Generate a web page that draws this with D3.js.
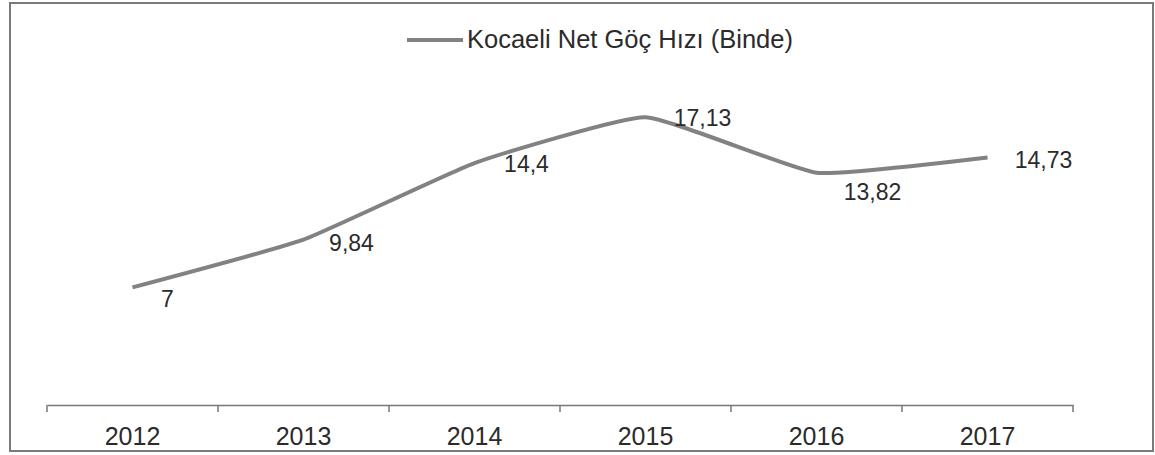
<!DOCTYPE html>
<html>
<head>
<meta charset="utf-8">
<script src="https://cdn.jsdelivr.net/npm/d3@7"></script>
<style>
  html, body { margin: 0; padding: 0; background: #ffffff; }
  svg { display: block; }
  text { font-family: "Liberation Sans", Arial, sans-serif; fill: #2b2b2b; }
</style>
</head>
<body>
<script>
// Kocaeli net migration rate (per thousand), 2012–2017
const years = ["2012", "2013", "2014", "2015", "2016", "2017"];
const netRate = [7, 9.84, 14.4, 17.13, 13.82, 14.73];
const seriesName = "Kocaeli Net Göç Hızı (Binde)";

// data label placement relative to each point [dx, dy]
const labelOffsets = [[35, 20], [48, 11], [52, 9], [57, 9], [56, 27], [56, 10]];

const W = 1155, H = 455;
const svg = d3.select("body").append("svg").attr("width", W).attr("height", H);

const locale = d3.formatLocale({ decimal: ",", thousands: ".", grouping: [3], currency: ["", ""] });
const fmt = v => locale.format("~g")(v);

const x = d3.scaleBand().domain(years).range([47, 1073]).padding(0);
const y = d3.scaleLinear().domain([0, 20]).range([405, 69]);
const cx = d => x(d) + x.bandwidth() / 2;

// outer frame
svg.append("rect")
  .attr("x", 10).attr("y", 3).attr("width", 1143).attr("height", 448)
  .attr("fill", "none").attr("stroke", "#7a7a7a").attr("stroke-width", 2);

// category axis
const axisG = svg.append("g").attr("transform", "translate(0,405)");
axisG.call(d3.axisBottom(x).tickSize(0).tickPadding(22))
  .call(g => g.select(".domain").attr("stroke", "#777").attr("stroke-width", 1.5))
  .call(g => g.selectAll(".tick text")
    .attr("font-size", 25).attr("fill", "#2b2b2b")
    .attr("font-family", "'Liberation Sans', Arial, sans-serif"));
const bounds = years.map(d => x(d)).concat([x.range()[1]]);
axisG.selectAll("line.sep").data(bounds).join("line")
  .attr("class", "sep")
  .attr("x1", d => d).attr("x2", d => d)
  .attr("y1", 0).attr("y2", 7)
  .attr("stroke", "#777").attr("stroke-width", 1.5);

// series line (lightly smoothed)
const pts = years.map((d, i) => [cx(d), y(netRate[i])]);
svg.append("path")
  .attr("d", d3.line().curve(d3.curveCardinal.tension(0.6))(pts))
  .attr("fill", "none").attr("stroke", "#828282").attr("stroke-width", 4)
  .attr("stroke-linejoin", "round");

// data labels
svg.selectAll("text.val").data(netRate).join("text")
  .attr("class", "val")
  .attr("x", (v, i) => cx(years[i]) + labelOffsets[i][0])
  .attr("y", (v, i) => y(v) + labelOffsets[i][1])
  .attr("text-anchor", "middle")
  .attr("font-size", 23)
  .text(v => fmt(v));

// legend
const lg = svg.append("g");
lg.append("line").attr("x1", 407).attr("x2", 463).attr("y1", 40).attr("y2", 40)
  .attr("stroke", "#828282").attr("stroke-width", 4);
lg.append("text").attr("x", 467).attr("y", 48).attr("font-size", 25.5).text(seriesName);
</script>
</body>
</html>
